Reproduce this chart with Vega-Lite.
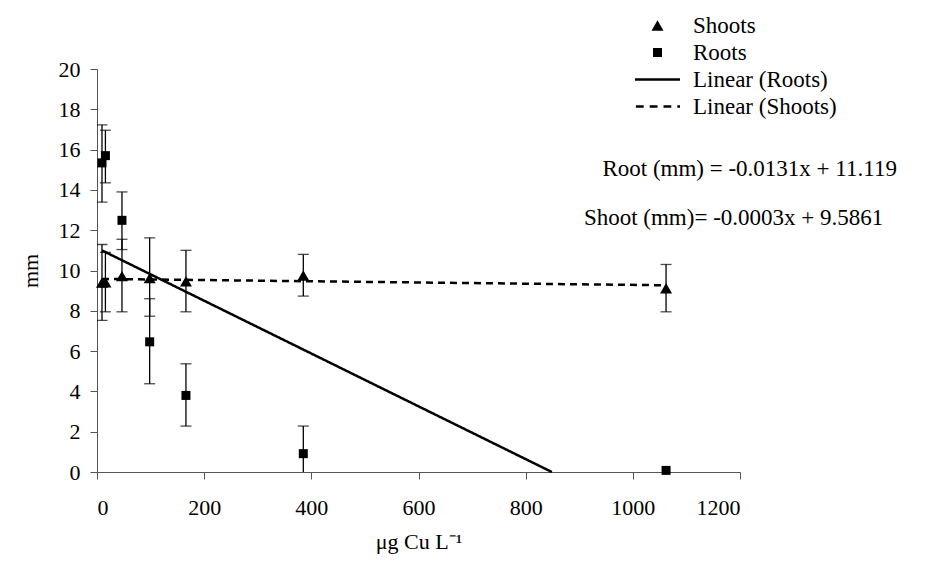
{
  "$schema": "https://vega.github.io/schema/vega-lite/v6.json",
  "width": 643,
  "height": 403,
  "autosize": {"type": "none"},
  "padding": {"left": 97, "top": 69, "right": 198, "bottom": 95},
  "background": "white",
  "config": {
    "view": {"stroke": null},
    "font": "Liberation Serif",
    "axis": {
      "labelFont": "Liberation Serif",
      "titleFont": "Liberation Serif",
      "labelFontSize": 22,
      "titleFontSize": 22,
      "labelColor": "black",
      "titleColor": "black",
      "titleFontWeight": "normal",
      "grid": false,
      "domainColor": "#555",
      "tickColor": "#555",
      "tickSize": 7,
      "labelPadding": 10
    }
  },
  "datasets": {
    "points": [
      {"conc": 9.3, "series": "Shoots", "mean": 9.4, "lo": 7.52, "hi": 11.29},
      {"conc": 15.7, "series": "Shoots", "mean": 9.42, "lo": 7.95, "hi": 10.9},
      {"conc": 46.6, "series": "Shoots", "mean": 9.72, "lo": 7.95, "hi": 11.55},
      {"conc": 98.3, "series": "Shoots", "mean": 9.62, "lo": 7.73, "hi": 11.62},
      {"conc": 166, "series": "Shoots", "mean": 9.46, "lo": 7.95, "hi": 11.0},
      {"conc": 385, "series": "Shoots", "mean": 9.75, "lo": 8.73, "hi": 10.8},
      {"conc": 1062, "series": "Shoots", "mean": 9.12, "lo": 7.95, "hi": 10.3},
      {"conc": 9.3, "series": "Roots", "mean": 15.34, "lo": 13.39, "hi": 17.23},
      {"conc": 15.7, "series": "Roots", "mean": 15.7, "lo": 14.35, "hi": 16.96},
      {"conc": 46.6, "series": "Roots", "mean": 12.49, "lo": 11.04, "hi": 13.9},
      {"conc": 98.3, "series": "Roots", "mean": 6.46, "lo": 4.38, "hi": 8.6},
      {"conc": 166, "series": "Roots", "mean": 3.8, "lo": 2.28, "hi": 5.37},
      {"conc": 385, "series": "Roots", "mean": 0.91, "lo": -0.46, "hi": 2.28},
      {"conc": 1062, "series": "Roots", "mean": 0.08, "lo": null, "hi": null}
    ],
    "fits": [
      {"conc": 9.3, "series": "Linear (Roots)", "value": 10.997},
      {"conc": 848.8, "series": "Linear (Roots)", "value": 0},
      {"conc": 9.3, "series": "Linear (Shoots)", "value": 9.583},
      {"conc": 1062, "series": "Linear (Shoots)", "value": 9.267}
    ],
    "notes": [
      {"conc": 1218, "mm": 15.04, "text": "Root (mm) = -0.0131x + 11.119"},
      {"conc": 1188, "mm": 12.61, "text": "Shoot (mm)= -0.0003x + 9.5861"}
    ]
  },
  "layer": [
    {
      "data": {"name": "fits"},
      "mark": {"type": "line", "color": "black", "strokeWidth": 2.5},
      "encoding": {
        "x": {"field": "conc", "type": "quantitative", "scale": {"domain": [0, 1200], "nice": false},
              "axis": {"values": [0, 200, 400, 600, 800, 1000, 1200], "format": "d", "title": "μg Cu L⁻¹", "labelPadding": 18, "titlePadding": 13}},
        "y": {"field": "value", "type": "quantitative", "scale": {"domain": [0, 20], "nice": false},
              "axis": {"values": [0, 2, 4, 6, 8, 10, 12, 14, 16, 18, 20], "title": "mm", "titlePadding": 16}},
        "detail": {"field": "series"},
        "strokeDash": {"field": "series", "type": "nominal", "legend": null,
                       "scale": {"domain": ["Linear (Roots)", "Linear (Shoots)"], "range": [[1, 0], [7, 5]]}}
      }
    },
    {
      "data": {"name": "points"},
      "mark": {"type": "rule", "color": "black", "strokeWidth": 1.3, "clip": true},
      "encoding": {
        "x": {"field": "conc", "type": "quantitative"},
        "y": {"field": "lo", "type": "quantitative"},
        "y2": {"field": "hi"}
      }
    },
    {
      "data": {"name": "points"},
      "mark": {"type": "tick", "orient": "horizontal", "color": "black", "size": 11, "thickness": 1.3, "clip": true},
      "encoding": {
        "x": {"field": "conc", "type": "quantitative"},
        "y": {"field": "lo", "type": "quantitative"}
      }
    },
    {
      "data": {"name": "points"},
      "mark": {"type": "tick", "orient": "horizontal", "color": "black", "size": 11, "thickness": 1.3, "clip": true},
      "encoding": {
        "x": {"field": "conc", "type": "quantitative"},
        "y": {"field": "hi", "type": "quantitative"}
      }
    },
    {
      "data": {"name": "points"},
      "mark": {"type": "point", "filled": true, "color": "black", "opacity": 1, "size": 144},
      "encoding": {
        "x": {"field": "conc", "type": "quantitative"},
        "y": {"field": "mean", "type": "quantitative"},
        "shape": {
          "field": "series", "type": "nominal",
          "scale": {
            "domain": ["Shoots", "Roots", "Linear (Roots)", "Linear (Shoots)"],
            "range": [
              "triangle-up",
              "M-0.75,-0.75H0.75V0.75H-0.75Z",
              "M-3.75,-0.2H3.75V0.2H-3.75Z",
              "M-3.6,-0.2H-2.3V0.2H-3.6ZM-1.3,-0.2H0V0.2H-1.3ZM1,-0.2H2.3V0.2H1ZM3.3,-0.2H3.75V0.2H3.3Z"
            ]
          },
          "legend": {
            "title": null,
            "orient": "none",
            "legendX": 549,
            "legendY": -55,
            "labelFont": "Liberation Serif",
            "labelFontSize": 23,
            "labelColor": "black",
            "labelOffset": 24,
            "rowPadding": 3,
            "symbolSize": 144,
            "symbolFillColor": "black",
            "symbolOpacity": 1
          }
        }
      }
    },
    {
      "data": {"name": "notes"},
      "mark": {"type": "text", "font": "Liberation Serif", "fontSize": 23, "color": "black", "align": "center", "baseline": "middle"},
      "encoding": {
        "x": {"field": "conc", "type": "quantitative"},
        "y": {"field": "mm", "type": "quantitative"},
        "text": {"field": "text"}
      }
    }
  ]
}
